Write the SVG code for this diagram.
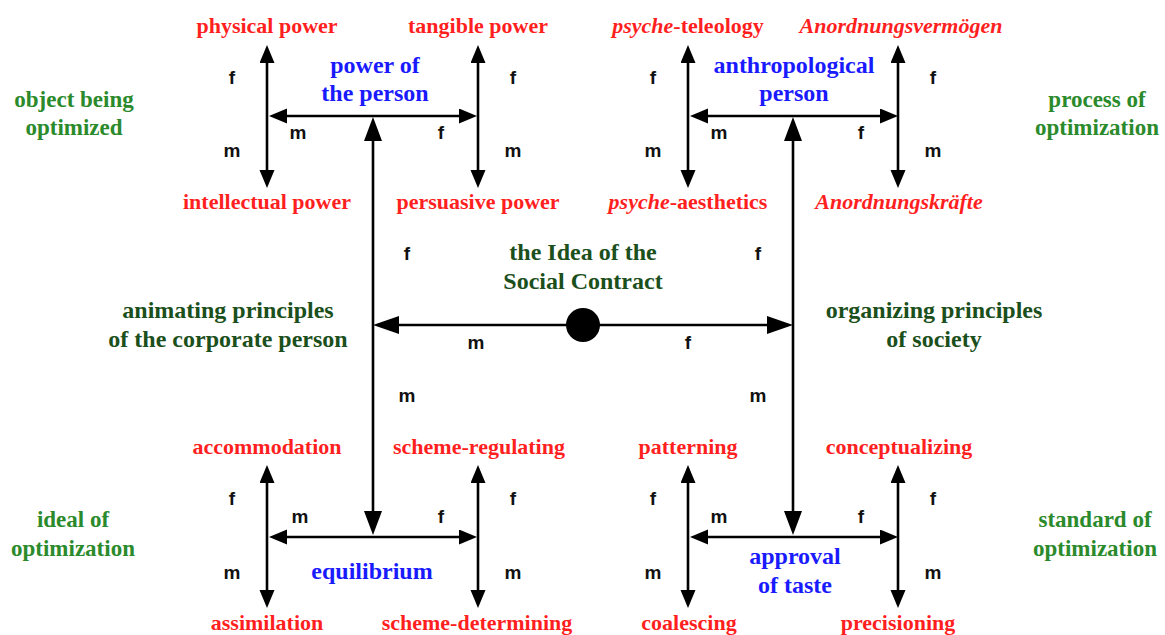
<svg xmlns="http://www.w3.org/2000/svg" width="1165" height="635" viewBox="0 0 1165 635">
<defs>
<style>
text{font-family:"Liberation Serif","Times New Roman",serif;font-weight:bold;text-anchor:middle}
.red{fill:#ff1f1f;font-size:22px}
.blue{fill:#1a1aff;font-size:24px}
.green{fill:#2b8a2b;font-size:23px}
.dg{fill:#1b4f1b;font-size:24px}
.lb{font-family:"Liberation Sans",Arial,sans-serif;font-size:19px;fill:#111}
.ln{stroke:#000;stroke-width:2.6;fill:none}
.sm{marker-start:url(#as);marker-end:url(#as)}
.lg{marker-start:url(#al);marker-end:url(#al)}
.md{marker-start:url(#am);marker-end:url(#am)}
</style>
<marker id="as" markerUnits="userSpaceOnUse" markerWidth="20" markerHeight="16" refX="10" refY="7.5" orient="auto-start-reverse"><path d="M0,0 L18,7.5 L0,15 z" fill="#000"/></marker>
<marker id="al" markerUnits="userSpaceOnUse" markerWidth="26" markerHeight="20" refX="16" refY="9" orient="auto-start-reverse"><path d="M0,0 L24,9 L0,18 z" fill="#000"/></marker>
<marker id="am" markerUnits="userSpaceOnUse" markerWidth="28" markerHeight="20" refX="18" refY="9" orient="auto-start-reverse"><path d="M0,0 L26,9 L0,18 z" fill="#000"/></marker>
</defs>
<rect width="1165" height="635" fill="#fff"/>
<g id="connectors">
<line class="ln sm" x1="267" y1="53" x2="267" y2="180"/>
<line class="ln sm" x1="478" y1="53" x2="478" y2="180"/>
<line class="ln sm" x1="277" y1="116" x2="469" y2="116"/>
<line class="ln sm" x1="688" y1="53" x2="688" y2="180"/>
<line class="ln sm" x1="898" y1="53" x2="898" y2="180"/>
<line class="ln sm" x1="698" y1="116" x2="890" y2="116"/>
<line class="ln sm" x1="267" y1="473" x2="267" y2="600"/>
<line class="ln sm" x1="478" y1="473" x2="478" y2="600"/>
<line class="ln sm" x1="277" y1="537" x2="469" y2="537"/>
<line class="ln sm" x1="688" y1="473" x2="688" y2="600"/>
<line class="ln sm" x1="898" y1="473" x2="898" y2="600"/>
<line class="ln sm" x1="698" y1="537" x2="890" y2="537"/>
<line class="ln lg" x1="373" y1="125" x2="373" y2="527"/>
<line class="ln lg" x1="793" y1="125" x2="793" y2="527"/>
<line class="ln md" x1="381" y1="325" x2="785" y2="325"/>
</g>
<g id="social-contract">
<circle cx="583" cy="325" r="17" fill="#000"/>
<text class="dg" x="583" y="260">the Idea of the</text>
<text class="dg" x="583" y="289">Social Contract</text>
</g>
<g id="animating"><text class="dg" x="228" y="318">animating principles</text><text class="dg" x="228" y="347">of the corporate person</text></g>
<g id="organizing"><text class="dg" x="934" y="318">organizing principles</text><text class="dg" x="934" y="347">of society</text></g>
<g id="object"><text class="green" x="74" y="107">object being</text><text class="green" x="74" y="135">optimized</text></g>
<g id="process"><text class="green" x="1097" y="107">process of</text><text class="green" x="1097" y="135">optimization</text></g>
<g id="ideal"><text class="green" x="73" y="527">ideal of</text><text class="green" x="73" y="556">optimization</text></g>
<g id="standard"><text class="green" x="1095" y="527">standard of</text><text class="green" x="1095" y="556">optimization</text></g>
<g id="power-person"><text class="blue" x="375" y="73">power of</text><text class="blue" x="375" y="101">the person</text></g>
<g id="anthropological"><text class="blue" x="794" y="73">anthropological</text><text class="blue" x="794" y="101">person</text></g>
<g id="equilibrium"><text class="blue" x="372" y="579">equilibrium</text></g>
<g id="approval"><text class="blue" x="795" y="564">approval</text><text class="blue" x="795" y="593">of taste</text></g>
<g id="physical"><text class="red" x="267" y="33">physical power</text></g>
<g id="tangible"><text class="red" x="478" y="33">tangible power</text></g>
<g id="intellectual"><text class="red" x="267" y="209">intellectual power</text></g>
<g id="persuasive"><text class="red" x="478" y="209">persuasive power</text></g>
<g id="teleology"><text class="red" x="688" y="33"><tspan font-style="italic">psyche</tspan>-teleology</text></g>
<g id="vermoegen"><text class="red" x="901" y="33" font-style="italic">Anordnungsvermögen</text></g>
<g id="aesthetics"><text class="red" x="688" y="209"><tspan font-style="italic">psyche</tspan>-aesthetics</text></g>
<g id="kraefte"><text class="red" x="899" y="209" font-style="italic">Anordnungskräfte</text></g>
<g id="accommodation"><text class="red" x="267" y="454">accommodation</text></g>
<g id="scheme-regulating"><text class="red" x="479" y="454">scheme-regulating</text></g>
<g id="assimilation"><text class="red" x="267" y="630">assimilation</text></g>
<g id="scheme-determining"><text class="red" x="477" y="630">scheme-determining</text></g>
<g id="patterning"><text class="red" x="688" y="454">patterning</text></g>
<g id="conceptualizing"><text class="red" x="899" y="454">conceptualizing</text></g>
<g id="coalescing"><text class="red" x="689" y="630">coalescing</text></g>
<g id="precisioning"><text class="red" x="898" y="630">precisioning</text></g>
<g id="fm-labels">
<text class="lb" x="232" y="84">f</text><text class="lb" x="232" y="157">m</text><text class="lb" x="298" y="139">m</text><text class="lb" x="441" y="139">f</text><text class="lb" x="513" y="84">f</text><text class="lb" x="513" y="157">m</text>
<text class="lb" x="653" y="84">f</text><text class="lb" x="653" y="157">m</text><text class="lb" x="719" y="139">m</text><text class="lb" x="861" y="139">f</text><text class="lb" x="933" y="84">f</text><text class="lb" x="933" y="157">m</text>
<text class="lb" x="407" y="260">f</text><text class="lb" x="758" y="260">f</text><text class="lb" x="476" y="349">m</text><text class="lb" x="688" y="349">f</text><text class="lb" x="407" y="402">m</text><text class="lb" x="758" y="402">m</text>
<text class="lb" x="232" y="505">f</text><text class="lb" x="232" y="579">m</text><text class="lb" x="300" y="523">m</text><text class="lb" x="441" y="523">f</text><text class="lb" x="513" y="505">f</text><text class="lb" x="513" y="579">m</text>
<text class="lb" x="653" y="505">f</text><text class="lb" x="653" y="579">m</text><text class="lb" x="719" y="523">m</text><text class="lb" x="861" y="523">f</text><text class="lb" x="933" y="505">f</text><text class="lb" x="933" y="579">m</text>
</g>
</svg>
